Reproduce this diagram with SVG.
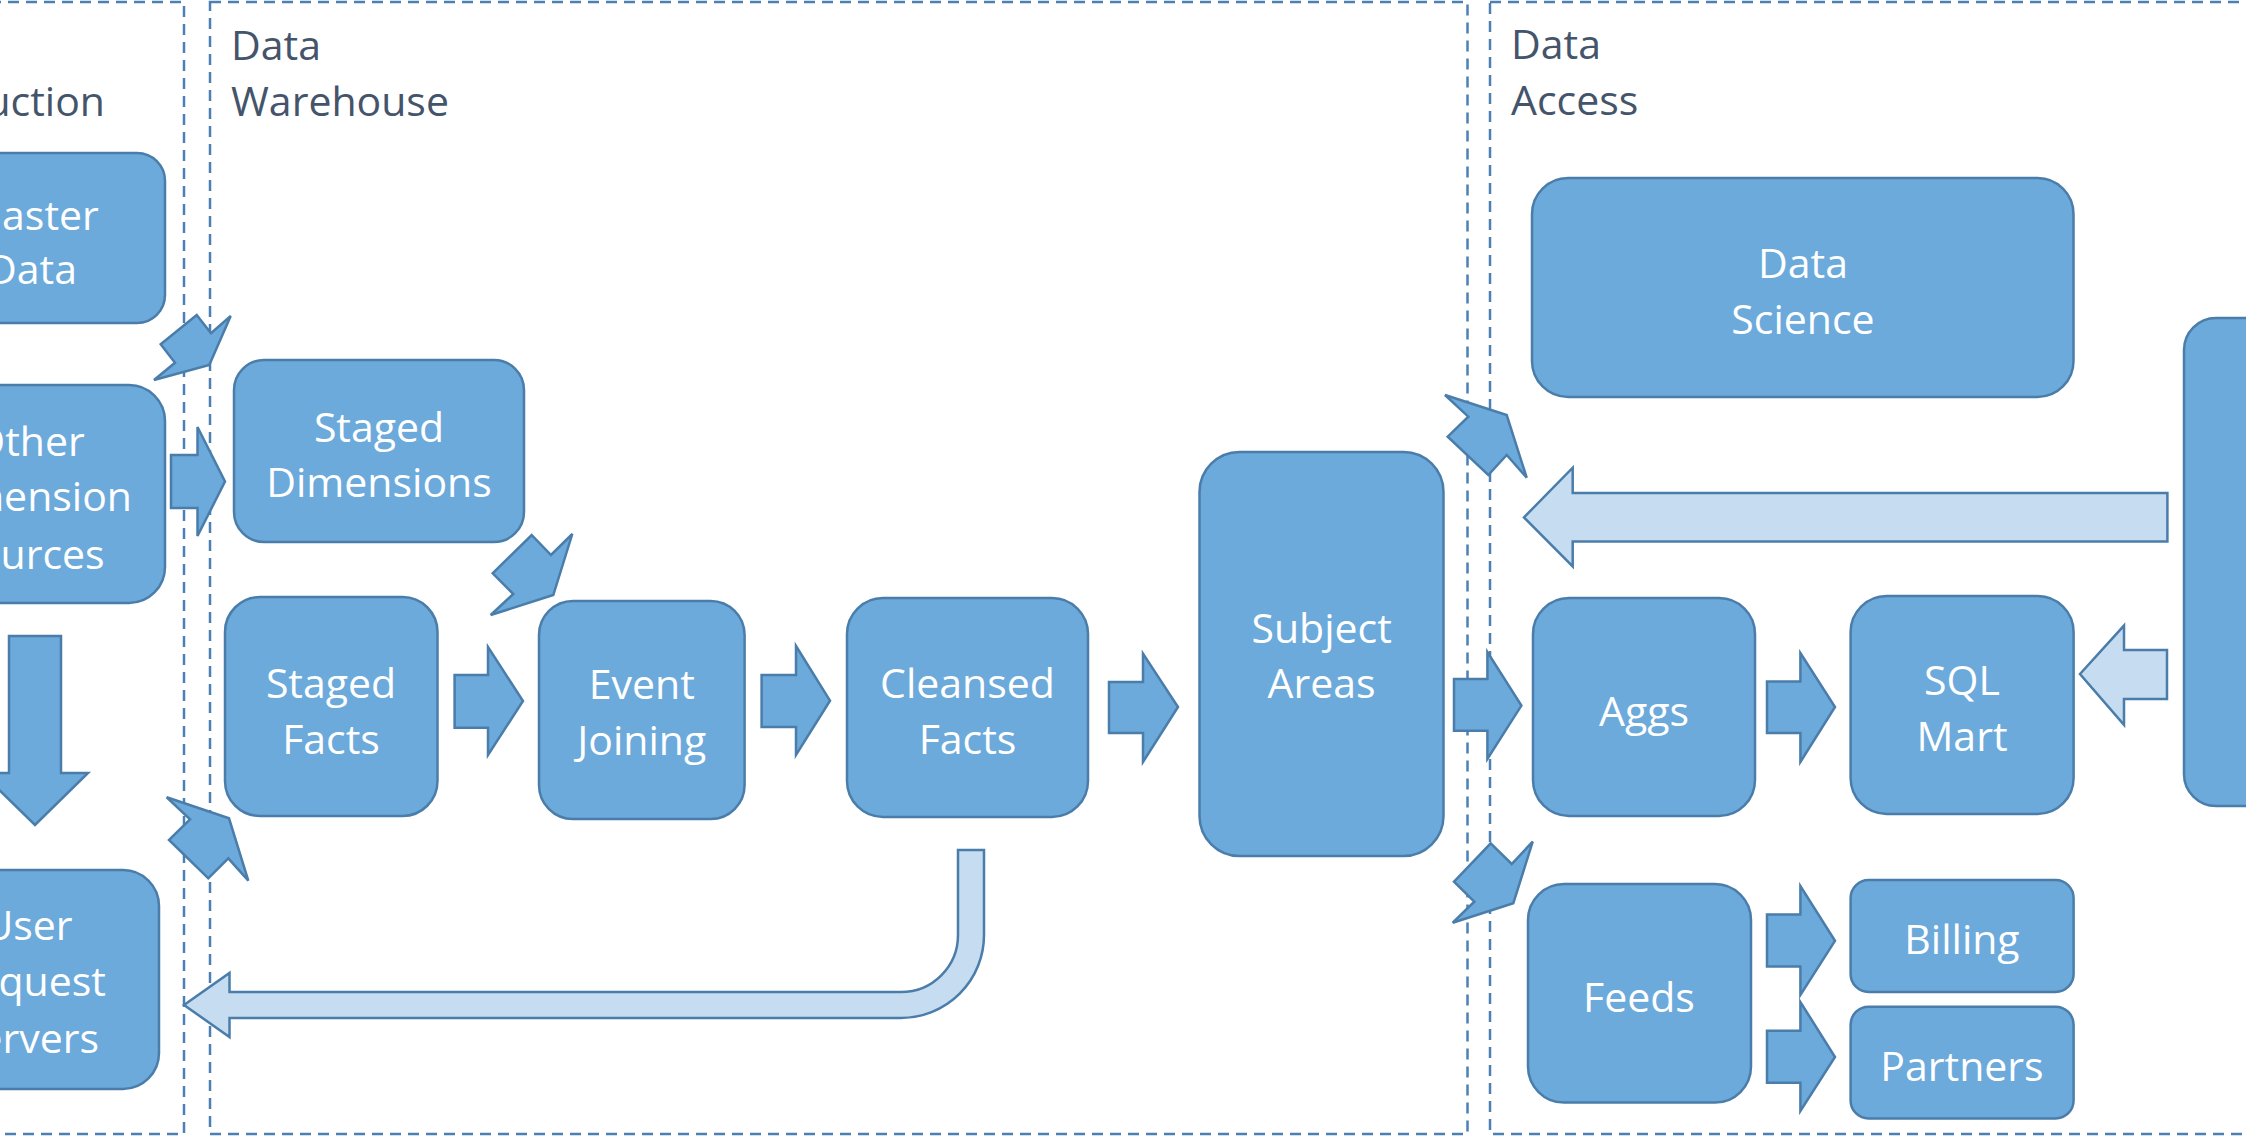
<svg xmlns="http://www.w3.org/2000/svg" width="2246" height="1138" viewBox="0 0 2246 1138">
<style>
.frame{fill:none;stroke:#4C80B4;stroke-width:2.5;stroke-dasharray:11 7}
.title{font-family:"Open Sans","Liberation Sans",sans-serif;font-size:41px;fill:#44546A}
.node{fill:#6CAADB;stroke:#4A7DAA;stroke-width:2.5}
.lbl{font-family:"Open Sans","Liberation Sans",sans-serif;font-size:41px;fill:#FFFFFF;text-anchor:middle}
.arr{fill:#6CAADB;stroke:#4A7DAA;stroke-width:2.5;stroke-linejoin:miter}
.arrl{fill:#C6DDF1;stroke:#4A7DAA;stroke-width:2.5;stroke-linejoin:miter}
</style>
<rect width="2246" height="1138" fill="#FFFFFF"/>
<g id="regions">
  <rect class="frame" x="-100" y="2" width="284" height="1132"/>
  <rect class="frame" x="210" y="2" width="1257.5" height="1132"/>
  <rect class="frame" x="1490" y="2" width="800" height="1132"/>
  <text class="title" x="105" y="116" text-anchor="end">Production</text>
  <text class="title" x="231" y="60">Data</text>
  <text class="title" x="231" y="116">Warehouse</text>
  <text class="title" x="1511" y="59">Data</text>
  <text class="title" x="1511" y="115">Access</text>
</g>
<g id="connectors">
  <polygon class="arr" points="9,636 61,636 61,773 88,773 35,825 -18,773 9,773"/>
  <polygon class="arr" points="196.7,315 211,333.3 230.7,316 209.3,365 154,380 175,362.7 160.7,344.3"/>
  <polygon class="arr" points="171,455 197.5,455 197.5,427 225,481.5 197.5,536 197.5,508 171,508"/>
  <polygon class="arr" points="531.7,535 551,555 572.3,534 553.3,595 490.7,615 513.3,594 492.7,573.3"/>
  <polygon class="arr" points="166.7,797.3 229,818.3 248.3,880.7 228.3,858.3 208.3,878.3 169,840 190,819.3"/>
  <polygon class="arr" points="454.6,675 488,675 488,647 523,701 488,755 488,727.7 454.6,727.7"/>
  <polygon class="arr" points="761.6,675 796,675 796,646 830,700.7 796,755 796,727 761.6,727"/>
  <polygon class="arr" points="1109,682 1143,682 1143,653.6 1178,707 1143,762 1143,733 1109,733"/>
  <polygon class="arr" points="1454,679 1487.4,679 1487.4,652 1521.4,705.6 1487.4,759 1487.4,730.7 1454,730.7"/>
  <polygon class="arr" points="1767,681.6 1800.4,681.6 1800.4,653 1835,707 1800.4,762 1800.4,733 1767,733"/>
  <polygon class="arr" points="1767,914.6 1800.4,914.6 1800.4,886 1835,940.8 1800.4,995 1800.4,966.6 1767,966.6"/>
  <polygon class="arr" points="1767,1030.7 1800.4,1030.7 1800.4,1002 1835,1057 1800.4,1111 1800.4,1082.7 1767,1082.7"/>
  <polygon class="arr" points="1445,395 1506.7,415 1526.7,477.7 1506.7,455 1488.3,475 1447.7,436.7 1468.3,416.7"/>
  <polygon class="arr" points="1490.7,843.3 1511.7,864 1532.7,841.7 1513.3,903.3 1452.7,922.7 1474.3,901.7 1454,881.7"/>
  <polygon class="arrl" points="1524,517.4 1572.7,467.7 1572.7,493 2167.4,493 2167.4,541.5 1572.7,541.5 1572.7,566.4"/>
  <polygon class="arrl" points="2080,674 2124,625.6 2124,650 2167,650 2167,699 2124,699 2124,724.8"/>
  <path class="arrl" d="M958,850 L984,850 L984,935 A83,83 0 0 1 901,1018 L229.5,1018 L229.5,1037 L184,1005 L229.5,973 L229.5,992 L901,992 A57,57 0 0 0 958,935 Z"/>
</g>
<g id="master-data">
  <rect class="node" x="-101" y="153" width="266" height="170" rx="28"/>
  <text class="lbl" x="32" y="230">Master</text>
  <text class="lbl" x="32" y="284">Data</text>
</g>
<g id="other-dimension-sources">
  <rect class="node" x="-107" y="385" width="272" height="218" rx="36"/>
  <text class="lbl" x="29" y="456">Other</text>
  <text class="lbl" x="29" y="511">Dimension</text>
  <text class="lbl" x="29" y="569">Sources</text>
</g>
<g id="user-request-servers">
  <rect class="node" x="-103" y="870" width="262" height="219" rx="36"/>
  <text class="lbl" x="28" y="940">User</text>
  <text class="lbl" x="28" y="996">Request</text>
  <text class="lbl" x="28" y="1053">Servers</text>
</g>
<g id="staged-dimensions">
  <rect class="node" x="234" y="360" width="290" height="182" rx="30"/>
  <text class="lbl" x="379" y="442">Staged</text>
  <text class="lbl" x="379" y="497">Dimensions</text>
</g>
<g id="staged-facts">
  <rect class="node" x="225" y="597" width="212.5" height="219" rx="35"/>
  <text class="lbl" x="331" y="698">Staged</text>
  <text class="lbl" x="331" y="753.5">Facts</text>
</g>
<g id="event-joining">
  <rect class="node" x="539" y="601" width="205.6" height="218" rx="34"/>
  <text class="lbl" x="641.8" y="699">Event</text>
  <text class="lbl" x="641.8" y="754.6">Joining</text>
</g>
<g id="cleansed-facts">
  <rect class="node" x="847" y="598" width="241" height="219" rx="36"/>
  <text class="lbl" x="967.5" y="697.5">Cleansed</text>
  <text class="lbl" x="967.5" y="753.6">Facts</text>
</g>
<g id="subject-areas">
  <rect class="node" x="1199.5" y="452" width="244" height="404" rx="40"/>
  <text class="lbl" x="1321.6" y="643">Subject</text>
  <text class="lbl" x="1321.6" y="698">Areas</text>
</g>
<g id="data-science">
  <rect class="node" x="1532" y="178" width="541.5" height="219" rx="36"/>
  <text class="lbl" x="1803" y="277.5">Data</text>
  <text class="lbl" x="1803" y="334">Science</text>
</g>
<g id="aggs">
  <rect class="node" x="1533" y="598" width="222" height="218" rx="36"/>
  <text class="lbl" x="1644" y="726">Aggs</text>
</g>
<g id="sql-mart">
  <rect class="node" x="1850.6" y="596" width="223" height="218" rx="36"/>
  <text class="lbl" x="1962" y="694.5">SQL</text>
  <text class="lbl" x="1962" y="751">Mart</text>
</g>
<g id="feeds">
  <rect class="node" x="1528" y="884" width="223" height="218.6" rx="36"/>
  <text class="lbl" x="1639" y="1012">Feeds</text>
</g>
<g id="billing">
  <rect class="node" x="1850.6" y="880" width="223" height="112" rx="18"/>
  <text class="lbl" x="1962" y="954.4">Billing</text>
</g>
<g id="partners">
  <rect class="node" x="1850.6" y="1006.7" width="223" height="111.7" rx="18"/>
  <text class="lbl" x="1962" y="1080.8">Partners</text>
</g>
<g id="right-source">
  <rect class="node" x="2184" y="318" width="200" height="488" rx="32"/>
</g>
</svg>
